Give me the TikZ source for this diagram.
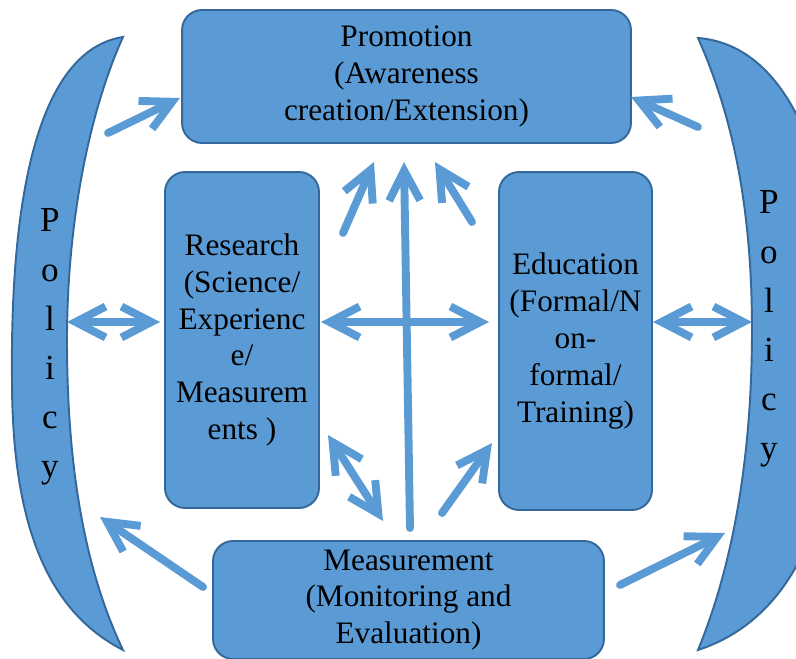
\documentclass[tikz,border=0pt]{standalone}
\usepackage{fontspec}
\setmainfont{Liberation Serif}
\usetikzlibrary{arrows.meta}
\definecolor{boxfill}{HTML}{5B9BD5}
\definecolor{boxline}{HTML}{35689A}
\tikzset{
  txt/.style={font=\fontsize{17.8}{21}\selectfont},
  big/.style={font=\fontsize{20}{24}\selectfont},
  box/.style={txt, draw=boxline, fill=boxfill, line width=1.1pt, rounded corners=0.4cm, align=center, inner sep=2pt},
  policy/.style={draw=boxline, fill=boxfill, line width=1.1pt},
  flow/.style={draw=boxfill, line width=4.5pt, line cap=round, line join=round},
  >={Straight Barb[length=0.6cm,width=0.62cm]}
}
\begin{document}
\begin{tikzpicture}[x=0.02cm,y=-0.02cm]
  \useasboundingbox (0,0) rectangle (796,659);
  % policy brackets
  \draw[policy] (123,37) .. controls (40,50) and (10,190) .. (12,380)
    .. controls (12,520) and (45,610) .. (123,650)
    .. controls (80,560) and (67,450) .. (67,340)
    .. controls (67,220) and (90,110) .. (123,37) -- cycle;
  \draw[policy] (698,38) .. controls (790,45) and (840,170) .. (840,350)
    .. controls (840,520) and (790,620) .. (698,650)
    .. controls (735,560) and (752,450) .. (752,330)
    .. controls (752,200) and (730,110) .. (698,38) -- cycle;
  \foreach \ch [count=\i from 0] in {P,o,l,i,c,y} {
    \node[big, anchor=base] (polL\i) at (50,{232+49*\i}) {\ch};
    \node[big, anchor=base] (polR\i) at (769,{214+49*\i}) {\ch};
  }
  % boxes
  \node[box, minimum width=8.98cm, minimum height=2.66cm] (prom) at (406.5,76.5) {Promotion\\(Awareness\\creation/Extension)};
  \node[box, minimum width=3.08cm, minimum height=6.72cm] (res) at (242,340) {Research\\(Science/\\Experienc\\e/\\Measurem\\ents )};
  \node[box, minimum width=3.06cm, minimum height=6.76cm] (edu) at (575.5,341) {Education\\(Formal/N\\on-\\formal/\\Training)};
  \node[box, minimum width=7.82cm, minimum height=2.36cm] (meas) at (408.5,600) {Measurement\\(Monitoring and\\Evaluation)};
  % arrow ends
  \coordinate (tl1) at (108,133);  \coordinate (tl2) at (180,98);
  \coordinate (tr1) at (698,127);  \coordinate (tr2) at (631,97);
  \coordinate (ul1) at (343,233);  \coordinate (ul2) at (374,162);
  \coordinate (uc1) at (410,528);  \coordinate (uc2) at (404,162);
  \coordinate (ur1) at (472,222);  \coordinate (ur2) at (435,162);
  \coordinate (hm1) at (321,322);  \coordinate (hm2) at (489,322);
  \coordinate (hl1) at (67,322);   \coordinate (hl2) at (160,322);
  \coordinate (hr1) at (653,322);  \coordinate (hr2) at (752,322);
  \coordinate (dr1) at (328,435);  \coordinate (dr2) at (383,521);
  \coordinate (me1) at (442,513);  \coordinate (me2) at (492,443);
  \coordinate (ml1) at (203,587);  \coordinate (ml2) at (100,517);
  \coordinate (mr1) at (620,585);  \coordinate (mr2) at (725,533);
  % arrows
  \draw[flow,->] (tl1) -- (tl2);
  \draw[flow,->] (tr1) -- (tr2);
  \draw[flow,->] (ul1) -- (ul2);
  \draw[flow,->] (uc1) -- (uc2);
  \draw[flow,->] (ur1) -- (ur2);
  \draw[flow,<->] (hm1) -- (hm2);
  \draw[flow,<->] (hl1) -- (hl2);
  \draw[flow,<->] (hr1) -- (hr2);
  \draw[flow,<->] (dr1) -- (dr2);
  \draw[flow,->] (me1) -- (me2);
  \draw[flow,->] (ml1) -- (ml2);
  \draw[flow,->] (mr1) -- (mr2);
\end{tikzpicture}
\end{document}
